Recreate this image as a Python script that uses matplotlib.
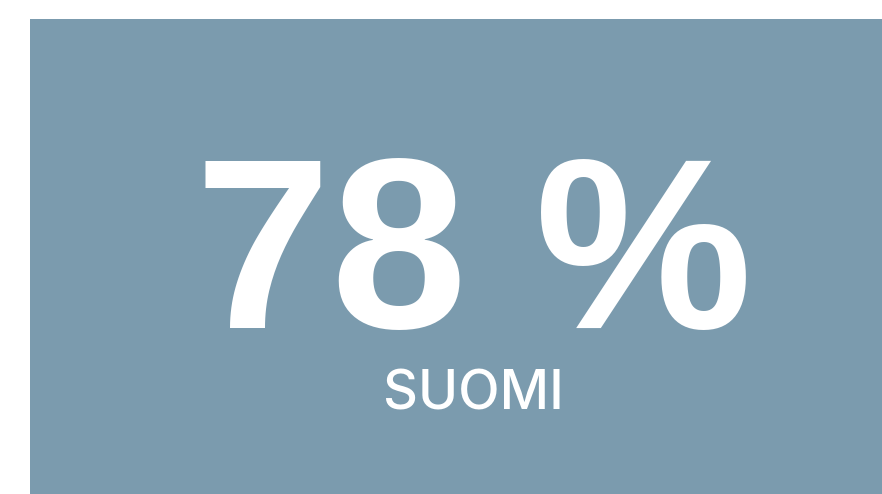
"""
Single-number tile: share of respondents in Finland.
"""

import matplotlib.pyplot as plt
import matplotlib.patches as mpatches

# Data
values = [78]
labels = ['SUOMI']

W, H = 882, 494
fig = plt.figure(figsize=(W / 100, H / 100), dpi=100)
fig.patch.set_facecolor('white')

# Blue-grey tile
tile = mpatches.Rectangle((30 / W, 0), 852 / W, 475 / H,
                          transform=fig.transFigure, facecolor='#7B9BAE',
                          edgecolor='none')
fig.patches.append(tile)

# Big number
fig.text(474 / W, 1 - 328 / H, f'{values[0]} %', ha='center', va='baseline',
         color='white', fontsize=176, fontweight='bold',
         family='Liberation Sans')

# Label
fig.text(473 / W, 1 - 410 / H, labels[0], ha='center', va='baseline',
         color='white', fontsize=39, fontweight='medium',
         family=['Inter', 'Liberation Sans'])

plt.savefig('out.png', dpi=100, facecolor='white')
plt.close()
